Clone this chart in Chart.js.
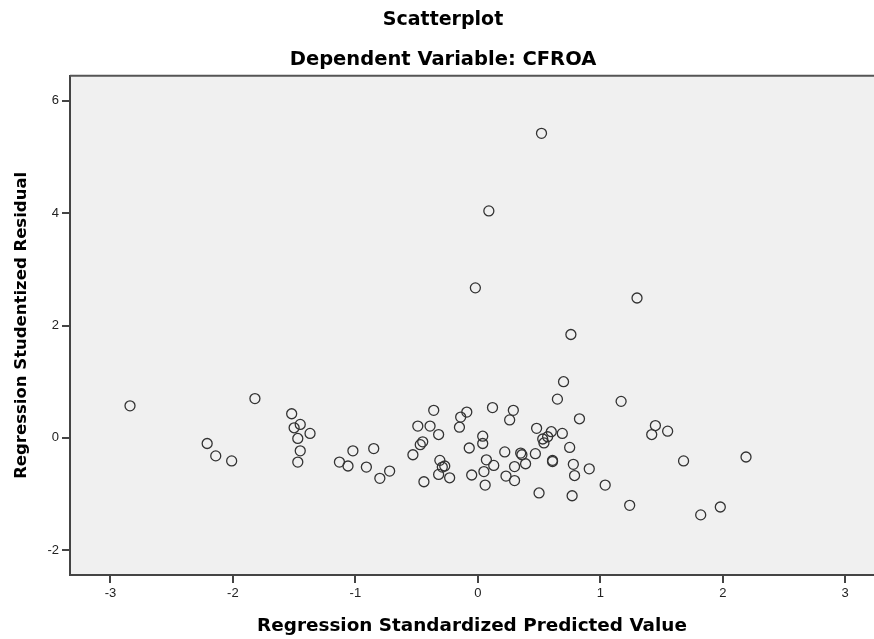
<!DOCTYPE html>
<html><head><meta charset="utf-8">
<script src="https://cdn.jsdelivr.net/npm/chart.js@4.4.1/dist/chart.umd.min.js"></script>
<style>html,body{margin:0;padding:0;background:#fff;overflow:hidden;} canvas{display:block;}</style>
</head><body>
<canvas id="c" width="874" height="639"></canvas>
<script>
// Regression Standardized Predicted Value (x) and Studentized Residual (y)
const predicted = [
  -2.84, -1.82, -2.21, -2.14, -2.01,
  -1.52, -1.45, -1.50, -1.37, -1.47, -1.45, -1.47,
  -1.13, -1.06, -1.02, -0.85, -0.91, -0.80, -0.72,
  -0.53, -0.47, -0.45, -0.49, -0.39, -0.36, -0.32, -0.44, -0.31, -0.29, -0.27, -0.32, -0.23,
  -0.15, -0.14, -0.09, -0.07, -0.05,
  0.12, 0.04, 0.04, 0.07, 0.13, 0.05, 0.06,
  0.22, 0.23, 0.29, 0.26, 0.30, 0.30, 0.35, 0.36, 0.39,
  0.47, 0.48, 0.50, 0.53, 0.54, 0.57, 0.60, 0.61, 0.61,
  0.65, 0.70, 0.69, 0.75, 0.83, 0.78, 0.79, 0.77,
  1.17, 0.91, 1.04, 1.24, 1.45, 1.42, 1.55, 1.68, 2.19, 1.98, 1.82,
  0.52, 0.09, -0.02, 1.30, 0.76
];
const residual = [
  0.57, 0.70, -0.10, -0.32, -0.41,
  0.43, 0.24, 0.18, 0.08, -0.01, -0.23, -0.43,
  -0.43, -0.50, -0.23, -0.19, -0.52, -0.72, -0.59,
  -0.30, -0.12, -0.07, 0.21, 0.21, 0.49, 0.06, -0.78, -0.40, -0.52, -0.50, -0.65, -0.71,
  0.19, 0.37, 0.46, -0.18, -0.66,
  0.54, 0.03, -0.10, -0.39, -0.49, -0.60, -0.84,
  -0.25, -0.68, 0.49, 0.32, -0.51, -0.76, -0.27, -0.30, -0.46,
  -0.28, 0.17, -0.98, -0.02, -0.09, 0.02, 0.11, -0.40, -0.42,
  0.69, 1.00, 0.08, -0.17, 0.34, -0.47, -0.67, -1.03,
  0.65, -0.55, -0.84, -1.20, 0.22, 0.06, 0.12, -0.41, -0.34, -1.23, -1.37,
  5.42, 4.04, 2.67, 2.49, 1.84
];
const xTicks = [-3, -2, -1, 0, 1, 2, 3];
const yTicks = [-2, 0, 2, 4, 6];
const chartTitle = 'Scatterplot';
const chartSubtitle = 'Dependent Variable: CFROA';
const xTitle = 'Regression Standardized Predicted Value';
const yTitle = 'Regression Studentized Residual';

const points = predicted.map((x, i) => ({x: x, y: residual[i]}));

const plotFrame = {
  id: 'plotFrame',
  beforeDraw(chart) {
    const {ctx, chartArea: a} = chart;
    ctx.save();
    ctx.fillStyle = '#f0f0f0';
    ctx.fillRect(a.left, a.top, a.right - a.left, a.bottom - a.top);
    ctx.restore();
  },
  afterDraw(chart) {
    const {ctx, chartArea: a} = chart;
    ctx.save();
    ctx.strokeStyle = '#555';
    ctx.lineWidth = 2;
    ctx.beginPath();
    ctx.moveTo(a.left, a.top);
    ctx.lineTo(a.right, a.top);
    ctx.stroke();
    ctx.restore();
  }
};

const boldFont = '"DejaVu Sans", sans-serif';
const tickFont = '"Liberation Sans", Arial, sans-serif';
Chart.defaults.font.family = boldFont;

new Chart(document.getElementById('c'), {
  type: 'scatter',
  data: {
    datasets: [{
      data: points,
      pointStyle: 'circle',
      pointRadius: 5,
      pointHoverRadius: 5,
      pointBorderWidth: 1.3,
      pointBorderColor: '#333',
      pointBackgroundColor: 'rgba(0,0,0,0)'
    }]
  },
  options: {
    responsive: false,
    animation: false,
    devicePixelRatio: 1,
    layout: {autoPadding: false, padding: {left: 12, right: 0, top: 0, bottom: 0}},
    plugins: {
      legend: {display: false},
      tooltip: {enabled: false},
      title: {
        display: true, text: chartTitle, color: '#000',
        font: {family: boldFont, size: 19, weight: 'bold', lineHeight: 1.2},
        padding: {top: 9, bottom: 0}
      },
      subtitle: {
        display: true, text: chartSubtitle, color: '#000',
        font: {family: boldFont, size: 19.5, weight: 'bold', lineHeight: 1.2},
        padding: {top: 16, bottom: 4.5}
      }
    },
    scales: {
      x: {
        type: 'linear', min: -3.33, max: 3.235,
        afterBuildTicks: s => { s.ticks = xTicks.map(v => ({value: v})); },
        afterFit: s => { s.height = 64; s.paddingLeft = 0; s.paddingRight = 0; },
        ticks: {color: '#222', padding: 3, font: {family: tickFont, size: 13}},
        grid: {drawOnChartArea: false, drawTicks: true, tickLength: 8, color: '#444', lineWidth: 2},
        border: {display: true, color: '#444', width: 2},
        title: {
          display: true, text: xTitle, color: '#000',
          font: {family: boldFont, size: 18.4, weight: 'bold', lineHeight: 1.2},
          padding: {top: 0, bottom: 1.5}
        }
      },
      y: {
        type: 'linear', min: -2.44, max: 6.446,
        afterBuildTicks: s => { s.ticks = yTicks.map(v => ({value: v})); },
        afterFit: s => { s.width = 58; s.paddingTop = 0; s.paddingBottom = 0; },
        ticks: {color: '#222', padding: 3, font: {family: tickFont, size: 13}},
        grid: {drawOnChartArea: false, drawTicks: true, tickLength: 8, color: '#444', lineWidth: 2},
        border: {display: true, color: '#444', width: 2},
        title: {
          display: true, text: yTitle, color: '#000',
          font: {family: boldFont, size: 16.5, weight: 'bold', lineHeight: 1.2},
          padding: {top: 0, bottom: 0}
        }
      }
    }
  },
  plugins: [plotFrame]
});
</script>
</body></html>
